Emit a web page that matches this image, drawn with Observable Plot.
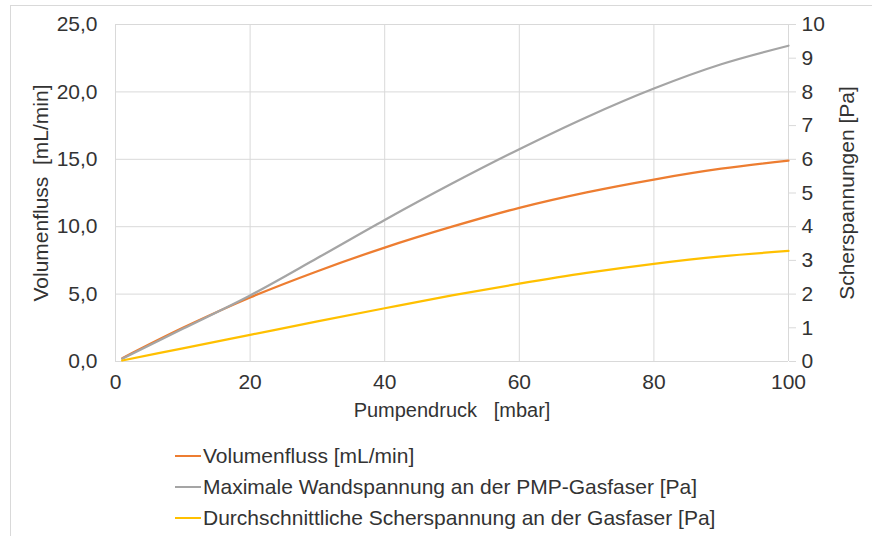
<!DOCTYPE html>
<html>
<head>
<meta charset="utf-8">
<script src="https://cdn.jsdelivr.net/npm/d3@7"></script>
<script src="https://cdn.jsdelivr.net/npm/@observablehq/plot@0.6"></script>
<style>
  html, body { margin: 0; padding: 0; width: 872px; height: 536px; overflow: hidden; background: #fff; }
  #frame { position: absolute; left: 10px; top: 5px; width: 900px; height: 600px;
           border-left: 1px solid #d9d9d9; border-top: 1px solid #d9d9d9; }
  #chart { position: absolute; left: 0; top: 0; }
  #legend { position: absolute; left: 175px; top: 440px; font-family: "Liberation Sans", Arial, sans-serif;
            font-size: 21px; color: #333; }
  .row { height: 31px; display: flex; align-items: center; }
  .swatch { width: 26px; height: 2px; margin-right: 2px; }
</style>
</head>
<body>
<div id="frame"></div>
<div id="chart"></div>
<div id="legend"></div>
<script>
// Pump pressure [mbar]
const pressure = [1, 10, 20, 30, 40, 50, 60, 70, 80, 90, 100];
// Volume flow [mL/min] (left axis)
const volumeFlow = [0.25, 2.5, 4.75, 6.7, 8.45, 10.0, 11.4, 12.55, 13.5, 14.3, 14.9];
// Maximum wall shear stress on the PMP gas fibre [Pa] (right axis)
const maxWallStress = [0.08, 0.97, 1.96, 3.07, 4.2, 5.28, 6.3, 7.25, 8.1, 8.82, 9.37];
// Mean shear stress on the gas fibre [Pa] (right axis)
const meanShearStress = [0.03, 0.39, 0.79, 1.19, 1.58, 1.96, 2.31, 2.63, 2.9, 3.12, 3.28];

const xTicks = [0, 20, 40, 60, 80, 100];
const leftTicks = [0, 5, 10, 15, 20, 25];
const rightTicks = [0, 1, 2, 3, 4, 5, 6, 7, 8, 9, 10];

const seriesNames = [
  "Volumenfluss [mL/min]",
  "Maximale Wandspannung an der PMP-Gasfaser [Pa]",
  "Durchschnittliche Scherspannung an der Gasfaser [Pa]"
];
const seriesColors = ["#ED7D31", "#A5A5A5", "#FFC000"];

// 10 Pa on the right axis spans the same height as 25 mL/min on the left
const paScale = 25 / 10;

const rows = pressure.map((p, i) => ({
  p,
  flow: volumeFlow[i],
  wall: maxWallStress[i] * paScale,
  mean: meanShearStress[i] * paScale
}));

const comma = d => d.toFixed(1).replace(".", ",");
const grid = "#d9d9d9";
const ink = "#333";

const chart = Plot.plot({
  width: 872,
  height: 430,
  marginLeft: 115,
  marginRight: 84,
  marginTop: 24,
  marginBottom: 69,
  x: {domain: [0, 100]},
  y: {domain: [0, 25]},
  style: {fontFamily: "'Liberation Sans', Arial, sans-serif", fontSize: "21px", color: ink, background: "transparent"},
  marks: [
    Plot.gridY(leftTicks, {stroke: grid, strokeOpacity: 1}),
    Plot.gridX(xTicks, {stroke: grid, strokeOpacity: 1}),
    Plot.axisY(leftTicks, {anchor: "left", tickSize: 0, tickPadding: 18, tickFormat: comma, label: null}),
    Plot.axisY(rightTicks.map(d => d * paScale), {anchor: "right", tickSize: 7, tickPadding: 6, stroke: grid,
      tickFormat: d => String(Math.round(d / paScale)), label: null}),
    Plot.axisX(xTicks, {tickSize: 0, tickPadding: 13, label: null}),
    Plot.line(rows, {x: "p", y: "flow", stroke: seriesColors[0], strokeWidth: 2.25, curve: "catmull-rom"}),
    Plot.line(rows, {x: "p", y: "wall", stroke: seriesColors[1], strokeWidth: 2.25, curve: "catmull-rom"}),
    Plot.line(rows, {x: "p", y: "mean", stroke: seriesColors[2], strokeWidth: 2.25, curve: "catmull-rom"}),
    Plot.text(["Volumenfluss \u00A0[mL/min]"], {text: d => d, frameAnchor: "left", textAnchor: "middle",
      dx: -74, rotate: -90, fill: ink}),
    Plot.text(["Scherspannungen [Pa]"], {text: d => d, frameAnchor: "right", textAnchor: "middle",
      dx: 59, rotate: -90, fill: ink}),
    Plot.text(["Pumpendruck \u00A0 [mbar]"], {text: d => d, frameAnchor: "bottom", dy: 55, fontSize: 20, fill: ink})
  ]
});
document.getElementById("chart").append(chart);

const legend = document.getElementById("legend");
seriesNames.forEach((name, i) => {
  const row = document.createElement("div");
  row.className = "row";
  const sw = document.createElement("span");
  sw.className = "swatch";
  sw.style.background = seriesColors[i];
  const label = document.createElement("span");
  label.textContent = name;
  row.append(sw, label);
  legend.append(row);
});
</script>
</body>
</html>
